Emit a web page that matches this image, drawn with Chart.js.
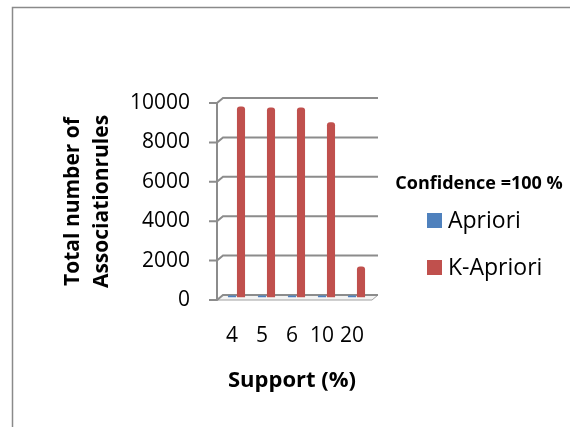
<!DOCTYPE html>
<html>
<head>
<meta charset="utf-8">
<script src="https://cdn.jsdelivr.net/npm/chart.js@4.4.0/dist/chart.umd.min.js"></script>
<style>
  html, body { margin: 0; padding: 0; background: #fff; }
  #wrap { width: 570px; height: 427px; position: relative; }
</style>
</head>
<body>
<div id="wrap"><canvas id="c" width="570" height="427"></canvas></div>
<script>
// Support thresholds (%) on the x axis
const supportLevels = ['4', '5', '6', '10', '20'];
// Number of association rules found at confidence = 100 %
const aprioriRules = [60, 50, 45, 40, 30];
const kAprioriRules = [9700, 9650, 9650, 8900, 1570];
// Value axis ticks
const yTicks = [0, 2000, 4000, 6000, 8000, 10000];
const legendTitle = 'Confidence =100 %';

const FONT = '"Open Sans", Lato, sans-serif';
const GRID = '#8c8c8c';
// depth of the 3-D box: back wall sits up-right of the front plane
const DEPTH_X = 6, DEPTH_Y = -5;
// bars stand halfway into the box
const BAR_DX = 4.5, BAR_DY = -2.5;

function cylinder(base, dark, light) {
  return (ctx) => {
    const el = ctx.element;
    if (!el || el.x === undefined || !el.width) return base;
    const c = ctx.chart.ctx;
    const x0 = el.x - el.width / 2, x1 = el.x + el.width / 2;
    const g = c.createLinearGradient(x0, 0, x1, 0);
    g.addColorStop(0, dark);
    g.addColorStop(0.45, light);
    g.addColorStop(1, dark);
    return g;
  };
}

const box3d = {
  id: 'box3d',
  beforeDraw(chart) {
    const { ctx, chartArea: a, scales } = chart;
    const y = scales.y;
    ctx.save();
    // outer frame
    ctx.strokeStyle = '#8a8a8a';
    ctx.lineWidth = 1.5;
    ctx.beginPath();
    ctx.moveTo(12.5, 427);
    ctx.lineTo(12.5, 7.5);
    ctx.lineTo(570, 7.5);
    ctx.stroke();

    // floor slab
    const y0 = y.getPixelForValue(0);
    const right = a.right + 5;
    ctx.fillStyle = '#f4f4f4';
    ctx.strokeStyle = '#a0a0a0';
    ctx.lineWidth = 1;
    ctx.beginPath();
    ctx.moveTo(a.left, y0);
    ctx.lineTo(right, y0);
    ctx.lineTo(right + DEPTH_X, y0 + DEPTH_Y);
    ctx.lineTo(a.left + DEPTH_X, y0 + DEPTH_Y);
    ctx.closePath();
    ctx.fill();
    ctx.stroke();

    // back-wall gridlines with the diagonal joint to the front ticks
    ctx.strokeStyle = GRID;
    ctx.lineWidth = 2;
    yTicks.forEach((v) => {
      const py = y.getPixelForValue(v);
      ctx.beginPath();
      ctx.moveTo(a.left - 8, py);
      ctx.lineTo(a.left, py);
      ctx.lineTo(a.left + DEPTH_X, py + DEPTH_Y);
      ctx.lineTo(right + DEPTH_X, py + DEPTH_Y);
      ctx.stroke();
    });
    // front value axis
    ctx.beginPath();
    ctx.moveTo(a.left, y.getPixelForValue(10000));
    ctx.lineTo(a.left, y0);
    ctx.stroke();
    ctx.restore();
  },
  beforeDatasetsDraw(chart) {
    chart.ctx.save();
    chart.ctx.translate(BAR_DX, BAR_DY);
  },
  afterDatasetsDraw(chart) {
    chart.ctx.restore();
  },
  afterDraw(chart) {
    // legend: title plus one swatch per series
    const { ctx } = chart;
    ctx.save();
    ctx.fillStyle = '#000';
    ctx.textBaseline = 'middle';
    ctx.textAlign = 'center';
    ctx.font = 'bold 18px ' + FONT;
    ctx.fillText(legendTitle, 479, 184);
    ctx.textAlign = 'left';
    ctx.font = '23px ' + FONT;
    const rows = [220.5, 267.5];
    chart.data.datasets.forEach((ds, i) => {
      ctx.fillStyle = ds.swatch;
      ctx.fillRect(427, rows[i] - 7.5, 15, 15);
      ctx.fillStyle = '#000';
      ctx.fillText(ds.label, 448, rows[i] + 1);
    });
    ctx.restore();
  }
};

new Chart(document.getElementById('c'), {
  type: 'bar',
  data: {
    labels: supportLevels,
    datasets: [
      {
        label: 'Apriori',
        data: aprioriRules,
        swatch: '#4f81bd',
        backgroundColor: cylinder('#4f81bd', '#3a6496', '#6f9bd2'),
        minBarLength: 2,
        borderRadius: { topLeft: 3, topRight: 3 },
        borderSkipped: 'bottom'
      },
      {
        label: 'K-Apriori',
        data: kAprioriRules,
        swatch: '#c0504d',
        backgroundColor: cylinder('#c0504d', '#9b3a37', '#d8726e'),
        borderRadius: { topLeft: 3, topRight: 3 },
        borderSkipped: 'bottom'
      }
    ]
  },
  options: {
    responsive: false,
    animation: false,
    devicePixelRatio: 1,
    categoryPercentage: 0.6,
    barPercentage: 0.9,
    layout: { padding: { left: 58, right: 203, top: 103, bottom: 0 } },
    plugins: {
      legend: { display: false },
      tooltip: { enabled: false }
    },
    scales: {
      x: {
        grid: { display: false, drawTicks: false },
        border: { display: false },
        ticks: {
          color: '#000', padding: 23, autoSkip: false, maxRotation: 0, minRotation: 0,
          font: { family: FONT, size: 21 }
        },
        title: {
          display: true,
          text: 'Support (%)',
          color: '#000',
          font: { family: FONT, size: 22, weight: 'bold', lineHeight: 1.2 },
          padding: { top: 0, bottom: 33 }
        },
        afterFit: (s) => { s.height = 127; }
      },
      y: {
        min: 0,
        max: 10000,
        afterBuildTicks: (s) => { s.ticks = yTicks.map((v) => ({ value: v })); },
        grid: { display: false, drawTicks: false },
        border: { display: false },
        ticks: {
          color: '#000', padding: 27,
          callback: (v) => String(v),
          font: { family: FONT, size: 21 }
        },
        title: {
          display: true,
          text: ['Total number of', 'Associationrules'],
          color: '#000',
          font: { family: FONT, size: 21, weight: 'bold', lineHeight: 1.4 },
          padding: { top: 0, bottom: 0 }
        },
        afterFit: (s) => { s.width = 159; }
      }
    }
  },
  plugins: [box3d]
});
</script>
</body>
</html>
